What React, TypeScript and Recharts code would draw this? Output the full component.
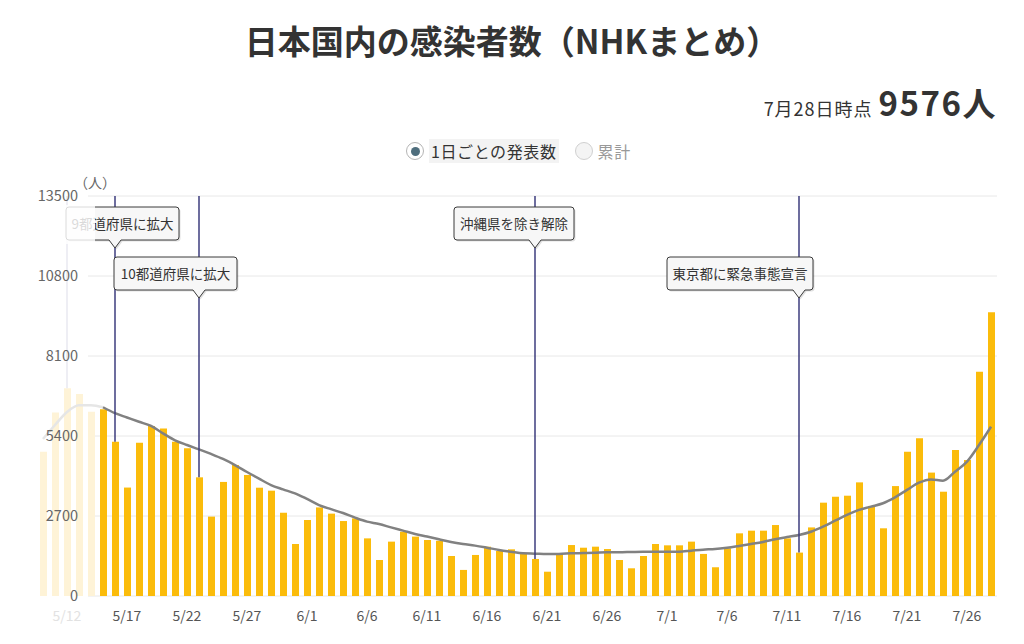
import React from 'react';
import { Bar, CartesianGrid, Cell, ComposedChart, Line, ReferenceLine, XAxis, YAxis } from 'recharts';

const dates = [
  '5/10', '5/11', '5/12', '5/13', '5/14', '5/15', '5/16', '5/17', '5/18', '5/19', '5/20',
  '5/21', '5/22', '5/23', '5/24', '5/25', '5/26', '5/27', '5/28', '5/29', '5/30', '5/31',
  '6/1', '6/2', '6/3', '6/4', '6/5', '6/6', '6/7', '6/8', '6/9', '6/10',
  '6/11', '6/12', '6/13', '6/14', '6/15', '6/16', '6/17', '6/18', '6/19', '6/20',
  '6/21', '6/22', '6/23', '6/24', '6/25', '6/26', '6/27', '6/28', '6/29', '6/30',
  '7/1', '7/2', '7/3', '7/4', '7/5', '7/6', '7/7', '7/8', '7/9', '7/10',
  '7/11', '7/12', '7/13', '7/14', '7/15', '7/16', '7/17', '7/18', '7/19', '7/20',
  '7/21', '7/22', '7/23', '7/24', '7/25', '7/26', '7/27', '7/28',
];

// daily reported cases
const cases = [
  4870, 6190, 7010, 6820, 6220, 6300, 5210, 3660, 5175, 5740, 5650,
  5210, 4985, 4005, 2680, 3850, 4420, 4085, 3655, 3555, 2810, 1755,
  2565, 2990, 2780, 2530, 2620, 1945, 1215, 1835, 2170, 2005,
  1890, 1865, 1350, 880, 1385, 1665, 1520, 1575, 1420, 1250,
  820, 1405, 1720, 1630, 1665, 1585, 1215, 935, 1350, 1755,
  1710, 1710, 1835, 1420, 970, 1610, 2115, 2205, 2205, 2395,
  1945, 1465, 2315, 3150, 3350, 3385, 3835, 3040, 2285, 3710,
  4870, 5320, 4165, 3520, 4930, 4590, 7570, 9576,
];

// 7-day average
const weeklyAvg = [
  5300, 5770, 6210, 6440, 6440, 6370, 6170, 6025, 5880, 5740, 5490,
  5255, 5095, 4950, 4795, 4625, 4420, 4185, 3960, 3745, 3600, 3465,
  3275, 3070, 2930, 2800, 2645, 2510, 2430, 2315, 2205, 2095,
  2005, 1915, 1825, 1755, 1700, 1630, 1555, 1495, 1440, 1430,
  1420, 1420, 1440, 1450, 1460, 1475, 1475, 1485, 1495, 1495,
  1495, 1495, 1530, 1565, 1585, 1630, 1690, 1755, 1825, 1915,
  1990, 2060, 2170, 2340, 2540, 2735, 2905, 3015, 3130, 3330,
  3580, 3825, 3935, 3890, 4195, 4535, 5095, 5715,
];

const xTicks = ['5/12', '5/17', '5/22', '5/27', '6/1', '6/6', '6/11', '6/16', '6/21', '6/26', '7/1', '7/6', '7/11', '7/16', '7/21', '7/26'];
const yTicks = [0, 2700, 5400, 8100, 10800, 13500];
const yMax = 13500;

// days scrolled out of view on the left (drawn faded)
const fadedDays = 5;
const hiddenEventDate = '5/12';

const events = [
  { date: '5/16', text: '9都道府県に拡大' },
  { date: '5/23', text: '10都道府県に拡大' },
  { date: '6/20', text: '沖縄県を除き解除' },
  { date: '7/12', text: '東京都に緊急事態宣言' },
];

// where each flag box sits relative to its line
const flagLayout = [
  { dx: -49, width: 113, row: 0, fade: 29 },
  { dx: -85, width: 123, row: 1, fade: 0 },
  { dx: -81, width: 120, row: 0, fade: 0 },
  { dx: -132, width: 146, row: 1, fade: 0 },
];

const chartData = dates.map((date, i) => ({
  date,
  cases: cases[i],
  avg: i >= fadedDays ? weeklyAvg[i] : null,
  fadedAvg: i <= fadedDays ? weeklyAvg[i] : null,
}));

const valueOn = (date: string) => cases[dates.indexOf(date)];

const FONT = "'Noto Sans CJK JP', 'Noto Sans', sans-serif";

function DateTick({ x, y, payload }: any) {
  const faded = dates.indexOf(payload.value) < fadedDays;
  return (
    <text x={x} y={y} dy={25} textAnchor="middle" fontSize={14} fill={faded ? '#e2e2e2' : '#555'} fontFamily={FONT}>
      {payload.value}
    </text>
  );
}

function ValueTick({ x, y, payload }: any) {
  return (
    <text x={x + 41} y={y} dy={5} textAnchor="end" fontSize={14.5} fill="#666" fontFamily={FONT}>
      {payload.value}
    </text>
  );
}

function EventFlag({ viewBox, text, dx, width, row, fade }: any) {
  const lineX = viewBox.x;
  const top = viewBox.y + (row === 0 ? 11 : 61);
  const h = 33;
  const left = lineX + dx;
  const right = left + width;
  const bottom = top + h;
  const r = 3;
  const d = `M${left + r},${top} H${right - r} Q${right},${top} ${right},${top + r} V${bottom - r} Q${right},${bottom} ${right - r},${bottom} H${lineX + 6} L${lineX},${bottom + 8} L${lineX - 6},${bottom} H${left + r} Q${left},${bottom} ${left},${bottom - r} V${top + r} Q${left},${top} ${left + r},${top} Z`;
  return (
    <g>
      <path d={d} transform="translate(1.5,1.5)" fill="#000" fillOpacity={0.12} />
      <path d={d} fill="#f7f7f7" stroke="#3a3a3a" strokeWidth={1} />
      <text x={left + width / 2} y={top + h / 2} dy={5} textAnchor="middle" fontSize={13.5} fill="#333" fontFamily={FONT}>
        {text}
      </text>
      {fade > 0 && <rect x={left - 2} y={top - 2} width={fade + 2} height={h + 6} fill="#fff" fillOpacity={0.82} />}
    </g>
  );
}

export default function App() {
  return (
    <div style={{ position: 'absolute', left: 0, top: 0, width: 1024, height: 644, background: '#fff', fontFamily: FONT, color: '#333' }}>
      <div style={{ position: 'absolute', left: 0, width: 1024, top: 18, height: 44, lineHeight: '44px', textAlign: 'center', fontSize: 33, fontWeight: 700, color: '#333' }}>
        日本国内の感染者数（NHKまとめ）
      </div>
      <div style={{ position: 'absolute', right: 27, top: 80, height: 44, lineHeight: '44px', whiteSpace: 'nowrap' }}>
        <span style={{ fontSize: 18, letterSpacing: 1, color: '#333' }}>7月28日時点</span>
        <span style={{ fontSize: 33, fontWeight: 700, marginLeft: 6, letterSpacing: 1.5, color: '#333' }}>9576人</span>
      </div>
      <div style={{ position: 'absolute', left: 406, top: 139, height: 24, display: 'flex', alignItems: 'center', fontSize: 16 }}>
        <span style={{ width: 18, height: 18, borderRadius: 9, border: '1px solid #b5b5b5', boxSizing: 'border-box', display: 'inline-flex', alignItems: 'center', justifyContent: 'center', background: '#fff' }}>
          <span style={{ width: 9, height: 9, borderRadius: 5, background: '#4f6e7d' }} />
        </span>
        <span style={{ marginLeft: 5, padding: '0 2px', background: '#f3f3f3', color: '#333', letterSpacing: 0.6 }}>1日ごとの発表数</span>
        <span style={{ marginLeft: 16, width: 18, height: 18, borderRadius: 9, border: '1px solid #d0d0d0', boxSizing: 'border-box', background: '#f4f4f4' }} />
        <span style={{ marginLeft: 5, color: '#999', letterSpacing: 0.6 }}>累計</span>
      </div>
      <div style={{ position: 'absolute', left: 74, top: 172, fontSize: 14, color: '#666' }}>（人）</div>
      <div style={{ position: 'absolute', left: 0, top: 0 }}>
        <ComposedChart width={1024} height={644} data={chartData} margin={{ top: 196, right: 27, bottom: 18, left: 0 }}>
          <CartesianGrid vertical={false} stroke="#e8e8e8" x={88} width={909} />
          <XAxis dataKey="date" ticks={xTicks} interval={0} axisLine={false} tickLine={false} tickSize={0} tickMargin={0} height={30} tick={<DateTick />} />
          <YAxis domain={[0, yMax]} ticks={yTicks} width={37} axisLine={false} tickLine={false} tickSize={0} tickMargin={0} tick={<ValueTick />} />
          <ReferenceLine
            segment={[{ x: hiddenEventDate, y: yMax }, { x: hiddenEventDate, y: valueOn(hiddenEventDate) }]}
            stroke="#e9e9f1"
            strokeWidth={1.5}
          />
          <Bar dataKey="cases" barSize={7} isAnimationActive={false}>
            {chartData.map((d, i) => (
              <Cell key={d.date} fill={i < fadedDays ? '#fef3d7' : '#fbbc0b'} />
            ))}
          </Bar>
          <Line dataKey="fadedAvg" type="monotone" stroke="#e6e6e6" strokeWidth={2.5} dot={false} isAnimationActive={false} />
          <Line dataKey="avg" type="monotone" stroke="#818181" strokeWidth={2.5} dot={false} isAnimationActive={false} />
          {events.map((ev, i) => (
            <ReferenceLine
              key={ev.date}
              segment={[{ x: ev.date, y: yMax }, { x: ev.date, y: valueOn(ev.date) }]}
              stroke="#3d3d7e"
              strokeWidth={1.5}
              label={<EventFlag text={ev.text} {...flagLayout[i]} />}
            />
          ))}
        </ComposedChart>
      </div>
    </div>
  );
}
